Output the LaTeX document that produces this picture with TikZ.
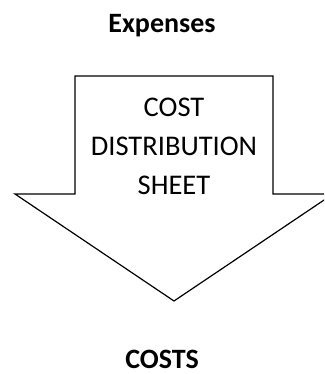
\documentclass[tikz,border=0pt]{standalone}
\usepackage{fontspec}
\setmainfont{Carlito}
\tikzset{
  lbl/.style    ={font=\fontsize{28}{34}\selectfont\bfseries, inner sep=0pt},
  body/.style   ={font=\fontsize{28.5}{39}\selectfont, align=center, inner sep=0pt},
  blockarr/.style={draw, line width=1.2pt, line join=miter},
}

\begin{document}
\begin{tikzpicture}[x=1pt, y=-1pt]
  \useasboundingbox (0,0) rectangle (324,374);
  \clip (0,0) rectangle (324,374);

  % down arrow, right barb runs past the edge
  \coordinate (tip) at (174,301);
  \draw[blockarr] (75,76) -- (273,76) -- (273,194) -- (333,194)
                  -- (tip) -- (15,194) -- (75,194) -- cycle;

  \node[body]              (sheet)    at (174,146) {COST\\DISTRIBUTION\\SHEET};
  \node[lbl, anchor=base]  (expenses) at (162,33)  {Expenses};
  \node[lbl, anchor=base]  (costs)    at (162,368) {COSTS};
\end{tikzpicture}
\end{document}
